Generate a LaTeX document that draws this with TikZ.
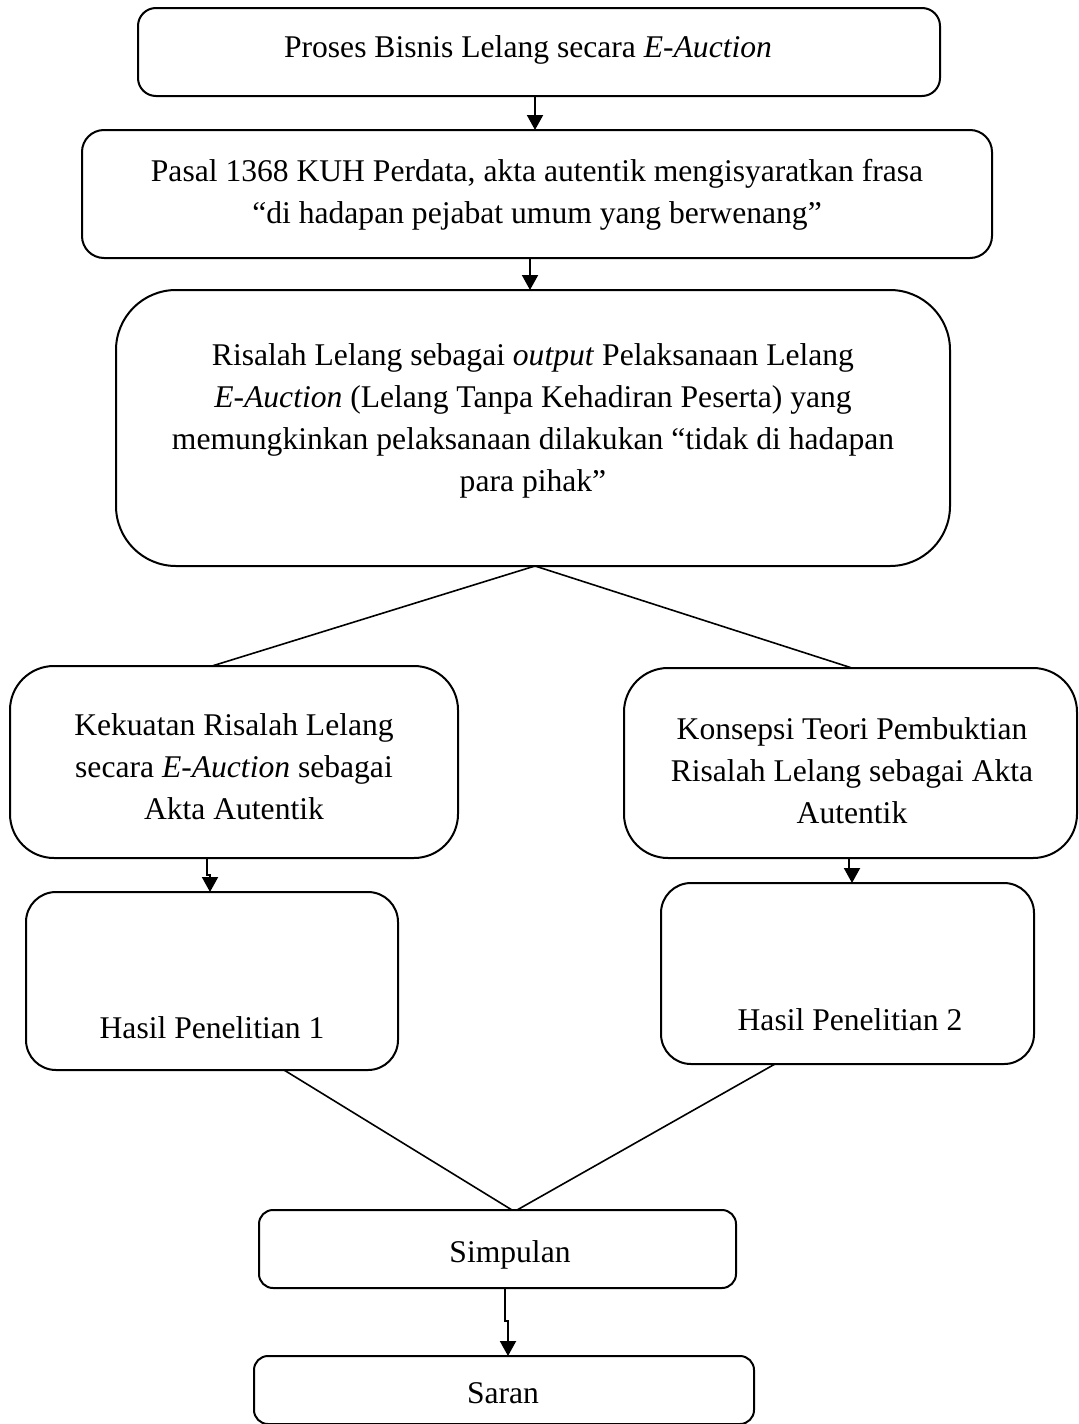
\documentclass[tikz,border=0pt]{standalone}
\usepackage{fontspec}
\setmainfont{Liberation Serif}
\usetikzlibrary{arrows.meta}
\begin{document}
\begin{tikzpicture}[x=0.5pt,y=-0.5pt,
  box/.style={draw, line width=1pt, inner sep=0pt, outer sep=0pt},
  txt/.style={align=center, inner sep=0pt, font=\fontsize{15.8}{21}\selectfont},
  arr/.style={line width=1pt, -{Triangle[length=7.5pt,width=8pt]}},
  ln/.style={line width=0.8pt}]
\useasboundingbox (0,0) rectangle (1079,1424);
% boxes
\node[box, minimum width=401pt, minimum height=44pt, rounded corners=9pt] (b1) at (539,52) {};
\node[box, minimum width=455pt, minimum height=64pt, rounded corners=11pt] (b2) at (537,194) {};
\node[box, minimum width=417pt, minimum height=138pt, rounded corners=30pt] (b3) at (533,428) {};
\node[box, minimum width=224pt, minimum height=96pt, rounded corners=22pt] (b4) at (234,762) {};
\node[box, minimum width=226.5pt, minimum height=95pt, rounded corners=22pt] (b5) at (850.5,763) {};
\node[box, minimum width=186pt, minimum height=89pt, rounded corners=15pt] (b6) at (212,981) {};
\node[box, minimum width=186.5pt, minimum height=90.5pt, rounded corners=15pt] (b7) at (847.5,973.5) {};
\node[box, minimum width=238.5pt, minimum height=39pt, rounded corners=7pt] (b8) at (497.5,1249) {};
\node[box, minimum width=250pt, minimum height=34pt, rounded corners=7pt] (b9) at (504,1390) {};
% texts
\node[txt] (t1) at (528,50) {Proses Bisnis Lelang secara \textit{E-Auction}};
\node[txt] (t2) at (537,195) {Pasal 1368 KUH Perdata, akta autentik mengisyaratkan frasa\\“di hadapan pejabat umum yang berwenang”};
\node[txt] (t3) at (533,421) {Risalah Lelang sebagai \textit{output} Pelaksanaan Lelang\\\textit{E-Auction} (Lelang Tanpa Kehadiran Peserta) yang\\memungkinkan pelaksanaan dilakukan “tidak di hadapan\\para pihak”};
\node[txt] (t4) at (234,767) {Kekuatan Risalah Lelang\\secara \textit{E-Auction} sebagai\\Akta Autentik};
\node[txt] (t5) at (852,771) {Konsepsi Teori Pembuktian\\Risalah Lelang sebagai Akta\\Autentik};
\node[txt] (t6) at (212,1028) {Hasil Penelitian 1};
\node[txt] (t7) at (850,1020) {Hasil Penelitian 2};
\node[txt] (t8) at (510,1255) {Simpulan};
\node[txt] (t9) at (503,1393) {Saran};
% helper coordinates
\coordinate (xa) at (535,0);
\coordinate (xb) at (530,0);
\coordinate (xc) at (535,0);
\coordinate (jl) at (210,0);
\coordinate (jr) at (852,0);
\coordinate (js) at (508,0);
\coordinate (xm) at (514,0);
% connectors
\draw[arr] (b1.south -| xa) -- (b2.north -| xa);
\draw[arr] (b2.south -| xb) -- (b3.north -| xb);
\draw[ln] (b4.north -| 212,0) -- (b3.south -| xc) -- (b5.north -| 852,0);
\draw[arr] (b4.south -| 207,0) -- ++(0,17) -- ++(3,0) -- (b6.north -| jl);
\draw[arr] (b5.south -| 849,0) -- ++(0,12) -- ++(3,0) -- (b7.north -| jr);
\draw[ln] (b6.south -| 284,0) -- (b8.north -| 512,0);
\draw[ln] (b7.south -| 775,0) -- (b8.north -| 517,0);
\draw[arr] (b8.south -| 505,0) -- ++(0,33) -- ++(3,0) -- (b9.north -| js);
\end{tikzpicture}
\end{document}
